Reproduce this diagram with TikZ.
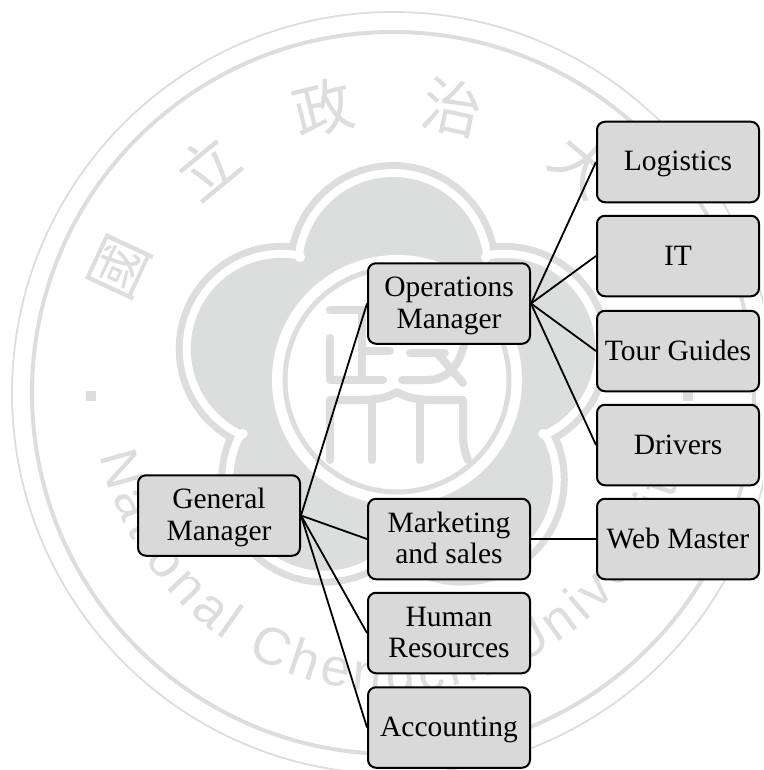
\documentclass[tikz,border=0pt]{standalone}
\usepackage{fontspec}
\setmainfont{Liberation Serif}
\newfontfamily\sealcjk{Noto Sans CJK TC}
\newfontfamily\sealsans{Liberation Sans}
\usetikzlibrary{decorations.text}
\definecolor{seal}{HTML}{DCDDDD}
\definecolor{boxfill}{HTML}{D9D9D9}
\newcommand\topstrut{\rule{0pt}{26pt}}
\newcommand\botstrut{\rule[-8pt]{0pt}{8pt}}
\tikzset{
  orgbox/.style={draw=black,fill=boxfill,line width=2pt,rounded corners=8pt,
    minimum width=162pt,minimum height=80.5pt,inner sep=0pt,outer sep=1pt,align=center,
    font=\fontsize{29.5}{31.7}\selectfont,text=black},
  link/.style={draw=black,line width=1.8pt},
  sealglyph/.style={text=seal,inner sep=0pt,font=\fontsize{60}{60}\sealcjk},
  sealstroke/.style={draw=seal,line width=8pt,line cap=round,line join=round}
}
\begin{document}
\begin{tikzpicture}[x=1pt,y=-1pt]
\useasboundingbox (0,0) rectangle (763,770);
\begin{scope}
\clip (0,0) rectangle (763,770);
% seal rings
\draw[seal,line width=1.8pt] (393,393) circle[radius=381];
\draw[seal,line width=4pt] (393,393) circle[radius=361];
% flower: outline ring, white gap, solid core
\foreach \a in {-90,-18,54,126,198} \fill[seal] ({393+117*cos(\a)},{385+117*sin(\a)}) circle[radius=106];
\foreach \a in {-90,-18,54,126,198} \fill[white] ({393+117*cos(\a)},{385+117*sin(\a)}) circle[radius=99];
\foreach \a in {-90,-18,54,126,198} \fill[seal] ({393+117*cos(\a)},{385+117*sin(\a)}) circle[radius=91];
\fill[seal] (393,385) circle[radius=125];
\foreach \a in {-54,18,90,162,234} \fill[white] ({393+158*cos(\a)},{385+158*sin(\a)}) circle[radius=5];
% centre
\fill[white] (397,380) circle[radius=125];
\draw[seal,line width=5pt] (397,380) circle[radius=112];
% centre glyph
\draw[sealstroke] (330,310) -- (392,310);
\draw[sealstroke] (330,338) -- (330,380) -- (383,380);
\draw[sealstroke] (363,351) -- (390,351);
\draw[sealstroke] (362,312) -- (362,380);
\draw[sealstroke] (410,353) -- (445,353);
\draw[sealstroke] (437,353) -- (463,383);
\draw[sealstroke] (402,380) -- (427,380) .. controls (450,380) and (462,362) .. (466,335);
\draw[sealstroke] (330,460) -- (330,400) -- (360,400) .. controls (375,400) and (387,398) .. (397,392) .. controls (407,398) and (419,400) .. (434,400) -- (463,400) -- (463,435) .. controls (463,445) and (465,453) .. (468,460);
\draw[sealstroke] (372,402) -- (372,460);
\draw[sealstroke] (420,402) -- (420,460);
% seal text
\node[sealglyph,rotate=65] (g1) at (120,267) {國};
\node[sealglyph,rotate=39.5] (g2) at (207,167) {立};
\node[sealglyph,rotate=14] (g3) at (323,108) {政};
\node[sealglyph,rotate=-12] (g4) at (453,107) {治};
\node[sealglyph,rotate=-40] (g5) at (583,165) {大};
\node[sealglyph,rotate=-65] (g6) at (665,266) {學};
\fill[seal] (85.5,390.5) rectangle (95.5,400.5);
\fill[seal] (683,391) rectangle (693,401);
\path[decorate,decoration={text along path,
   text={|\fontsize{53}{53}\sealsans\color{seal}|National Chengchi University},
   text align={fit to path}}]
   ({393+299*cos(168)},{393+299*sin(168)}) arc[start angle=168,end angle=12,radius=299];
\end{scope}
% boxes
\node[orgbox] (gm) at (219,515.5) {\topstrut General\\Manager\botstrut};
\node[orgbox] (ops) at (449,303.5) {\topstrut Operations\\Manager\botstrut};
\node[orgbox] (mkt) at (449,539) {\topstrut Marketing\\and sales\botstrut};
\node[orgbox] (hr) at (449,633) {\topstrut Human\\Resources\botstrut};
\node[orgbox] (acc) at (449,727.5) {\topstrut Accounting\botstrut};
\node[orgbox] (log) at (678,162) {\topstrut Logistics\botstrut};
\node[orgbox] (it) at (678,256) {\topstrut IT\botstrut};
\node[orgbox] (tour) at (678,351) {\topstrut Tour Guides\botstrut};
\node[orgbox] (drv) at (678,445) {\topstrut Drivers\botstrut};
\node[orgbox] (web) at (678,539) {\topstrut Web Master\botstrut};
% connectors
\foreach \t in {ops,mkt,hr,acc} \draw[link] (gm.east) -- (\t.west);
\foreach \t in {log,it,tour,drv} \draw[link] (ops.east) -- (\t.west);
\draw[link] (mkt.east) -- (web.west);
\end{tikzpicture}
\end{document}
